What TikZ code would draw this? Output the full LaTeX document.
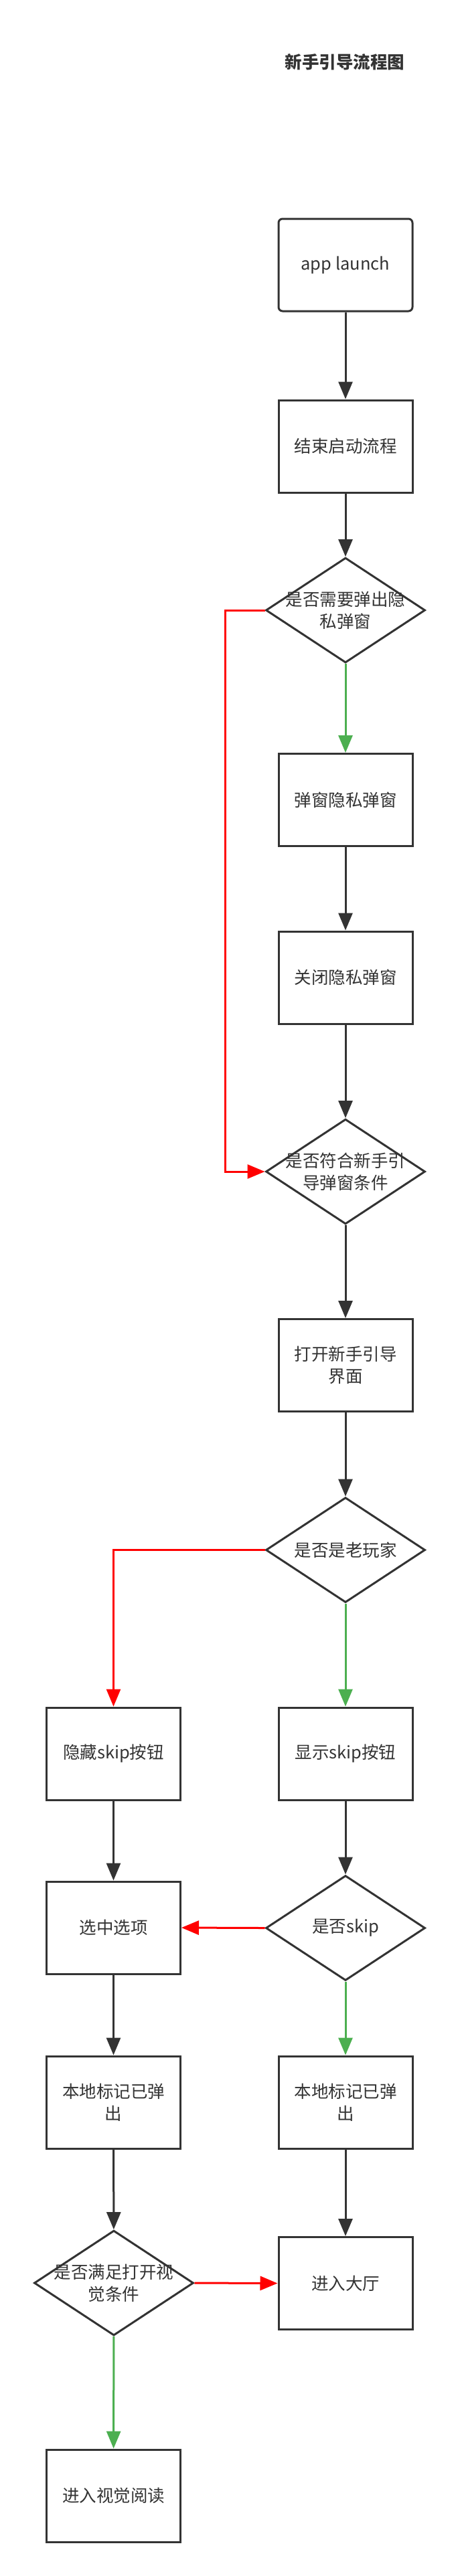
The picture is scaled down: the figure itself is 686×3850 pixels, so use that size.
\documentclass[tikz,border=0pt]{standalone}
\usepackage{fontspec}
\newfontfamily\cjk{Noto Sans CJK SC}
\usetikzlibrary{shapes.geometric,arrows.meta}
\definecolor{dk}{HTML}{333333}
\definecolor{rd}{HTML}{FF0000}
\definecolor{gn}{HTML}{4CAF50}
\newcommand\txtfont{\cjk\fontsize{25.5}{33}\selectfont}
\begin{document}
\begin{tikzpicture}[x=1pt,y=-1pt,
  box/.style={draw=dk,line width=3pt,fill=white,minimum width=200pt,minimum height=138pt,inner sep=0pt,align=center,font=\txtfont,text=dk},
  rbox/.style={box,rounded corners=6pt},
  dia/.style={draw=dk,line width=3pt,fill=white,shape=diamond,minimum width=238pt,minimum height=157pt,inner sep=0pt},
  dtxt/.style={align=center,font=\txtfont,text=dk,inner sep=0pt},
  arr/.style={line width=3pt,-{Triangle[length=26pt,width=21pt]}},
  blk/.style={arr,draw=dk},
  noarr/.style={arr,draw=rd},
  yesarr/.style={arr,draw=gn}]
\useasboundingbox (0,0) rectangle (686,3850);
\node[font=\cjk\bfseries\fontsize{25.5}{30}\selectfont,text=dk] (title) at (515,93) {新手引导流程图};
\node[rbox] (app) at (516,396) {app launch};
\node[box] (end) at (516,667) {结束启动流程};
\node[dia] (d1) at (516,912) {};
\node[dtxt] (t1) at (d1.center) {是否需要弹出隐\\私弹窗};
\node[box] (pop) at (516,1195.5) {弹窗隐私弹窗};
\node[box] (close) at (516,1461) {关闭隐私弹窗};
\node[dia] (d2) at (516,1751) {};
\node[dtxt] (t2) at (d2.center) {是否符合新手引\\导弹窗条件};
\node[box] (open) at (516,2040.5) {打开新手引导\\界面};
\node[dia] (d3) at (516,2316.5) {};
\node[dtxt] (t3) at (d3.center) {是否是老玩家};
\node[box] (hide) at (169.5,2621) {隐藏skip按钮};
\node[box] (show) at (516,2621) {显示skip按钮};
\node[box] (sel) at (169.5,2881) {选中选项};
\node[dia] (d5) at (516,2881.5) {};
\node[dtxt] (t5) at (d5.center) {是否skip};
\node[box] (markL) at (169.5,3142) {本地标记已弹\\出};
\node[box] (markR) at (516,3142) {本地标记已弹\\出};
\node[dia] (d4) at (170,3412) {};
\node[dtxt] (t4) at (d4.center) {是否满足打开视\\觉条件};
\node[box] (hall) at (516,3412.5) {进入大厅};
\node[box] (read) at (169.5,3730) {进入视觉阅读};
\coordinate (k1) at (336,912);
\draw[blk] (app) -- (end);
\draw[blk] (end) -- (d1);
\draw[yesarr] (d1) -- (pop);
\draw[noarr] (d1.west) -- (k1) |- (d2.west);
\draw[blk] (pop) -- (close);
\draw[blk] (close) -- (d2);
\draw[blk] (d2) -- (open);
\draw[blk] (open) -- (d3);
\draw[noarr] (d3.west) -| (hide.north);
\draw[yesarr] (d3) -- (show);
\draw[blk] (hide) -- (sel);
\draw[blk] (show) -- (d5);
\draw[noarr] (d5.west) -- (sel.east);
\draw[yesarr] (d5) -- (markR);
\draw[blk] (sel) -- (markL);
\draw[blk] (markL) -- (d4);
\draw[blk] (markR) -- (hall);
\draw[noarr] (d4.east) -- (hall.west);
\draw[yesarr] (d4) -- (read);
\end{tikzpicture}
\end{document}
